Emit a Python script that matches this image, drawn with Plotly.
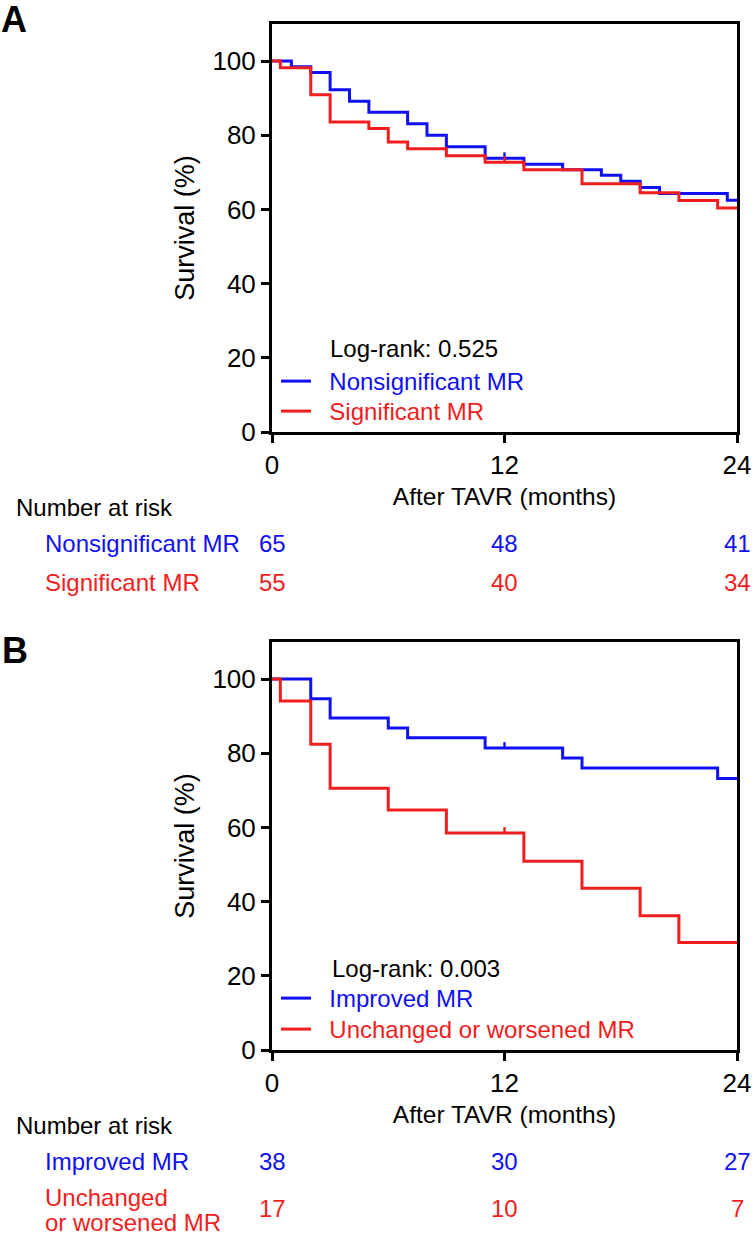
import plotly.graph_objects as go

W, H = 754, 1239
FONT = "Liberation Sans, Arial, sans-serif"
BLUE = "#1010F2"
RED = "#F01E1E"

# ---------------- Data ----------------
# Panel A
a_nonsig_t = [0, 1, 2, 3, 4, 5, 7, 8, 9, 11, 13, 15, 17, 18, 19, 20, 23.5, 24]
a_nonsig_s = [100, 98.5, 96.9, 92.3, 89.2, 86.2, 83.1, 80.0, 76.9, 73.8, 72.2, 70.7, 69.2, 67.6, 65.9, 64.3, 62.5, 62.5]
a_sig_t = [0, 0.43, 2, 3, 5, 6, 7, 9, 11, 13, 16, 19, 21, 23, 24]
a_sig_s = [100, 98.2, 90.9, 83.6, 81.8, 78.2, 76.4, 74.5, 72.7, 70.7, 66.9, 64.5, 62.4, 60.4, 60.4]
a_names = ["Nonsignificant MR", "Significant MR"]
a_logrank = "Log-rank: 0.525"
a_risk_nonsig = [65, 48, 41]
a_risk_sig = [55, 40, 34]

# Panel B
b_imp_t = [0, 2, 3, 6, 7, 11, 15, 16, 23, 24]
b_imp_s = [100, 94.7, 89.5, 86.8, 84.2, 81.4, 78.7, 76.0, 73.2, 73.2]
b_unc_t = [0, 0.43, 2, 3, 6, 9, 13, 16, 19, 21, 24]
b_unc_s = [100, 94.1, 82.4, 70.6, 64.7, 58.5, 50.9, 43.6, 36.2, 29.0, 29.0]
b_names = ["Improved MR", "Unchanged or worsened MR"]
b_risk_labels = ["Improved MR", "Unchanged", "or worsened MR"]
b_logrank = "Log-rank: 0.003"
b_risk_imp = [38, 30, 27]
b_risk_unc = [17, 10, 7]

censor_times = [12]
risk_times = [0, 12, 24]
x_ticks = [0, 12, 24]
y_ticks = [0, 20, 40, 60, 80, 100]

# ---------------- Helpers ----------------
def px_y(p):
    return 1 - p / H

def px_x(p):
    return p / W

def surv_at(ts, ss, t):
    v = ss[0]
    for ti, si in zip(ts, ss):
        if ti <= t:
            v = si
    return v

TICK_H = 1.6

def censor_xy(ts, ss):
    xs, ys = [], []
    for c in censor_times:
        s = surv_at(ts, ss, c)
        xs += [c, c, None]
        ys += [s, s + TICK_H, None]
    return xs, ys

fig = go.Figure()

def add_curve(ts, ss, color, name, xa, ya, legend):
    fig.add_trace(go.Scatter(
        x=ts, y=ss, mode="lines", line=dict(color=color, width=3, shape="hv"),
        name=f"&nbsp;&nbsp;<span style='color:{color}'>{name}</span>",
        xaxis=xa, yaxis=ya, legend=legend, showlegend=True, hoverinfo="skip"))
    cx, cy = censor_xy(ts, ss)
    fig.add_trace(go.Scatter(
        x=cx, y=cy, mode="lines", line=dict(color=color, width=2.4),
        xaxis=xa, yaxis=ya, showlegend=False, hoverinfo="skip"))

add_curve(a_nonsig_t, a_nonsig_s, BLUE, a_names[0], "x", "y", "legend")
add_curve(a_sig_t, a_sig_s, RED, a_names[1], "x", "y", "legend3")
add_curve(b_imp_t, b_imp_s, BLUE, b_names[0], "x2", "y2", "legend2")
add_curve(b_unc_t, b_unc_s, RED, b_names[1], "x2", "y2", "legend4")

# ---------------- Axes ----------------
x_dom = [px_x(272), px_x(737)]
ax_common = dict(showline=True, linewidth=3, linecolor="black", mirror=True,
                 ticks="outside", ticklen=8, tickwidth=3, tickcolor="black",
                 showgrid=False, zeroline=False, automargin=False,
                 tickfont=dict(family=FONT, size=26, color="black"))

xa = dict(ax_common, range=[0, 24], tickvals=x_ticks, domain=x_dom,
          title=dict(text="After TAVR (months)", font=dict(family=FONT, size=24.5, color="black"), standoff=9))
ya = dict(ax_common, range=[0, 110], tickvals=y_ticks,
          title=dict(text="Survival (%)", font=dict(family=FONT, size=27, color="black"), standoff=10))

fig.update_layout(
    xaxis=dict(xa, anchor="y"),
    yaxis=dict(ya, domain=[px_y(432), px_y(24)], anchor="x"),
    xaxis2=dict(xa, anchor="y2"),
    yaxis2=dict(ya, domain=[px_y(1050), px_y(642)], anchor="x2"),
)

legend_style = dict(bgcolor="rgba(0,0,0,0)", font=dict(family=FONT, size=24),
                    xanchor="left", yanchor="top", itemwidth=30)
LEG_X = px_x(276)
fig.update_layout(
    legend=dict(legend_style, x=LEG_X, y=px_y(381 - 22)),
    legend3=dict(legend_style, x=LEG_X, y=px_y(411 - 22)),
    legend2=dict(legend_style, x=LEG_X, y=px_y(998 - 22)),
    legend4=dict(legend_style, x=LEG_X, y=px_y(1029 - 22)),
)

# ---------------- Annotations ----------------
ann = []
def text(x, y, s, color="black", size=24, xanchor="left", xref="paper", bold=False):
    ann.append(dict(x=x, y=y, xref=xref, yref="paper", text=(f"<b>{s}</b>" if bold else s),
                    showarrow=False, xanchor=xanchor, yanchor="middle", borderpad=0, borderwidth=0,
                    font=dict(family=FONT, size=size, color=color), align="left"))

text(px_x(1), px_y(19), "A", size=36, bold=True)
text(px_x(2), px_y(650), "B", size=36, bold=True)

text(px_x(330), px_y(348), a_logrank)
text(px_x(332), px_y(968), b_logrank)

# Number at risk A
text(px_x(16), px_y(507), "Number at risk")
text(px_x(45), px_y(543), a_names[0], color=BLUE)
text(px_x(45), px_y(582), a_names[1], color=RED)
for t, n in zip(risk_times, a_risk_nonsig):
    ann.append(dict(x=t, y=px_y(543), xref="x", yref="paper", text=str(n), showarrow=False,
                    xanchor="center", yanchor="middle", font=dict(family=FONT, size=24, color=BLUE)))
for t, n in zip(risk_times, a_risk_sig):
    ann.append(dict(x=t, y=px_y(582), xref="x", yref="paper", text=str(n), showarrow=False,
                    xanchor="center", yanchor="middle", font=dict(family=FONT, size=24, color=RED)))

# Number at risk B
text(px_x(16), px_y(1125), "Number at risk")
text(px_x(45), px_y(1161), b_risk_labels[0], color=BLUE)
text(px_x(45), px_y(1197), b_risk_labels[1], color=RED)
text(px_x(45), px_y(1222), b_risk_labels[2], color=RED)
for t, n in zip(risk_times, b_risk_imp):
    ann.append(dict(x=t, y=px_y(1161), xref="x2", yref="paper", text=str(n), showarrow=False,
                    xanchor="center", yanchor="middle", font=dict(family=FONT, size=24, color=BLUE)))
for t, n in zip(risk_times, b_risk_unc):
    ann.append(dict(x=t, y=px_y(1208), xref="x2", yref="paper", text=str(n), showarrow=False,
                    xanchor="center", yanchor="middle", font=dict(family=FONT, size=24, color=RED)))

fig.update_layout(
    annotations=ann,
    width=W, height=H,
    margin=dict(l=0, r=0, t=0, b=0),
    paper_bgcolor="white", plot_bgcolor="white",
    font=dict(family=FONT, color="black"),
)

fig.write_html("out.html", config={"displayModeBar": False},
               post_script="document.body.style.margin='0';document.body.style.overflow='hidden';")
